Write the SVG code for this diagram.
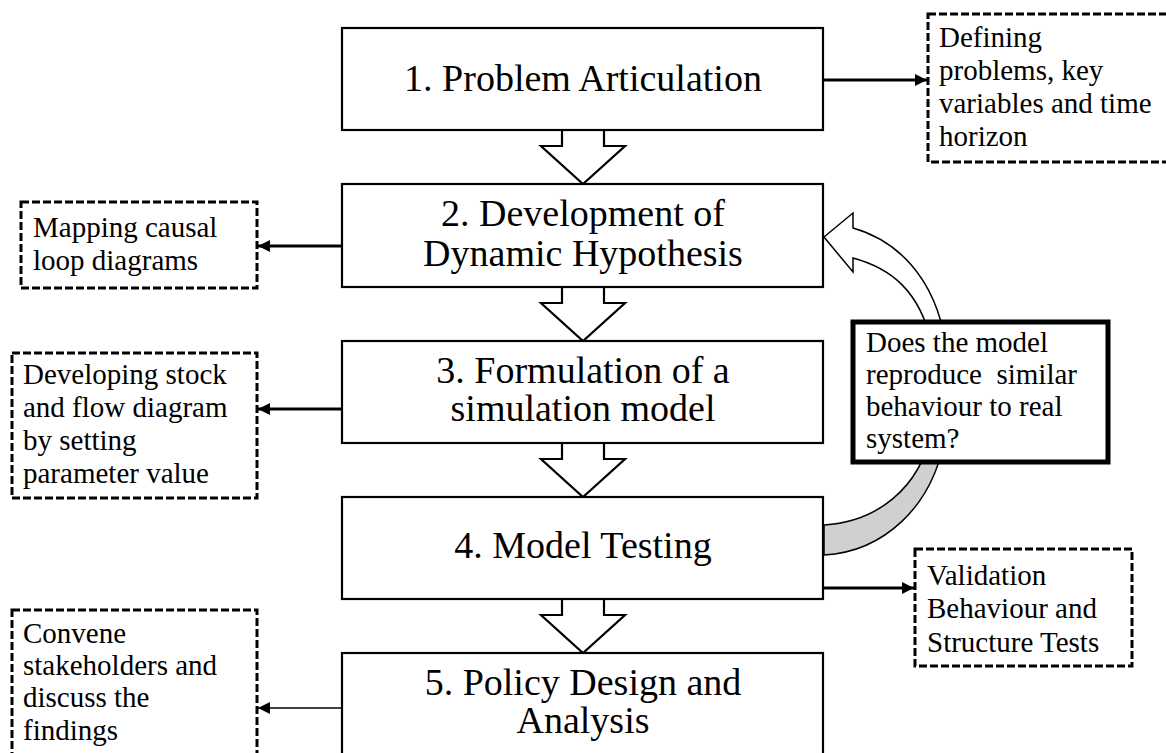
<svg xmlns="http://www.w3.org/2000/svg" width="1166" height="753" viewBox="0 0 1166 753">
  <defs>
    <style>
      .step { fill: #fff; stroke: #000; stroke-width: 2.2; }
      .step-text { font-family: "Liberation Serif", "Times New Roman", serif; font-size: 38px; fill: #000; text-anchor: middle; }
      .note { fill: #fff; stroke: #000; stroke-width: 3; stroke-dasharray: 8 3; }
      .note-text { font-family: "Liberation Serif", "Times New Roman", serif; font-size: 29px; fill: #000; }
      .flow { fill: #fff; stroke: #000; stroke-width: 2.2; stroke-linejoin: miter; }
      .link { fill: none; stroke: #000; stroke-width: 3; }
      .link-thin { fill: none; stroke: #000; stroke-width: 1.5; }
      .question { fill: #fff; stroke: #000; stroke-width: 5; }
    </style>
    <marker id="head" viewBox="0 0 10 10" refX="10" refY="5" markerWidth="4" markerHeight="4" markerUnits="strokeWidth" orient="auto">
      <path d="M0 0 L10 5 L0 10 Z" fill="#000"/>
    </marker>
    <marker id="head-thin" viewBox="0 0 10 10" refX="10" refY="5" markerWidth="8" markerHeight="8" markerUnits="strokeWidth" orient="auto">
      <path d="M0 0 L10 5 L0 10 Z" fill="#000"/>
    </marker>
    <!-- hollow block arrow pointing down, origin at shaft top centre -->
    <path id="block-down" d="M-21 0 L-21 16 L-42 16 L0 54 L42 16 L21 16 L21 0"/>
  </defs>

  <!-- connectors -->
  <g id="connectors">
    <line class="link" x1="823" y1="80" x2="927" y2="80" marker-end="url(#head)"/>
    <line class="link" x1="342" y1="246" x2="258" y2="246" marker-end="url(#head)"/>
    <line class="link" x1="342" y1="409" x2="258" y2="409" marker-end="url(#head)"/>
    <line class="link" x1="824" y1="588" x2="914" y2="588" marker-end="url(#head)"/>
    <line class="link-thin" x1="342" y1="708" x2="258" y2="708" marker-end="url(#head-thin)"/>

    <!-- feedback loop: lower shaded band and upper arrow -->
    <path id="loop-back" d="M824 555 C880 552 935 510 946 430 L932 430 C920 490 875 522 824 525 Z" fill="#d0d0d0" stroke="#000" stroke-width="1.5"/>
    <path id="loop-head" d="M824 237 L853 213 L853 228 C895 240 935 275 946 345 L932 345 C920 290 890 268 853 258 L853 272 Z" fill="#fff" stroke="#000" stroke-width="1.5" stroke-linejoin="miter"/>
  </g>

  <!-- down arrows between steps -->
  <g id="flow-arrows">
    <use href="#block-down" class="flow" x="583" y="130"/>
    <use href="#block-down" class="flow" x="583" y="287"/>
    <use href="#block-down" class="flow" x="583" y="443"/>
    <use href="#block-down" class="flow" x="583" y="599"/>
  </g>

  <g id="step1">
    <rect class="step" x="342" y="28" width="481" height="102"/>
    <text class="step-text" x="583" y="91">1. Problem Articulation</text>
  </g>
  <g id="step2">
    <rect class="step" x="342" y="184" width="481" height="103"/>
    <text class="step-text" x="583" y="226">2. Development of</text>
    <text class="step-text" x="583" y="266">Dynamic Hypothesis</text>
  </g>
  <g id="step3">
    <rect class="step" x="342" y="341" width="481" height="102"/>
    <text class="step-text" x="583" y="383">3. Formulation of a</text>
    <text class="step-text" x="583" y="421">simulation model</text>
  </g>
  <g id="step4">
    <rect class="step" x="342" y="497" width="481" height="102"/>
    <text class="step-text" x="583" y="558">4. Model Testing</text>
  </g>
  <g id="step5">
    <rect class="step" x="342" y="653" width="481" height="110"/>
    <text class="step-text" x="583" y="695">5. Policy Design and</text>
    <text class="step-text" x="583" y="733">Analysis</text>
  </g>

  <g id="note-define">
    <rect class="note" x="928" y="14" width="245" height="148"/>
    <text class="note-text" x="939" y="47">Defining</text>
    <text class="note-text" x="939" y="80">problems, key</text>
    <text class="note-text" x="939" y="113">variables and time</text>
    <text class="note-text" x="939" y="146">horizon</text>
  </g>
  <g id="note-mapping">
    <rect class="note" x="21" y="202" width="236" height="86"/>
    <text class="note-text" x="33" y="237">Mapping causal</text>
    <text class="note-text" x="33" y="270">loop diagrams</text>
  </g>
  <g id="note-stock">
    <rect class="note" x="12" y="353" width="245" height="145"/>
    <text class="note-text" x="23" y="384">Developing stock</text>
    <text class="note-text" x="23" y="417">and flow diagram</text>
    <text class="note-text" x="23" y="450">by setting</text>
    <text class="note-text" x="23" y="483">parameter value</text>
  </g>
  <g id="note-validation">
    <rect class="note" x="915" y="549" width="217" height="117"/>
    <text class="note-text" x="927" y="585">Validation</text>
    <text class="note-text" x="927" y="618">Behaviour and</text>
    <text class="note-text" x="927" y="652">Structure Tests</text>
  </g>
  <g id="note-convene">
    <rect class="note" x="12" y="610" width="245" height="160"/>
    <text class="note-text" x="23" y="643">Convene</text>
    <text class="note-text" x="23" y="675">stakeholders and</text>
    <text class="note-text" x="23" y="707">discuss the</text>
    <text class="note-text" x="23" y="740">findings</text>
  </g>

  <g id="question">
    <rect class="question" x="853" y="322" width="255" height="140"/>
    <text class="note-text" x="866" y="352">Does the model</text>
    <text class="note-text" x="866" y="384" xml:space="preserve">reproduce  similar</text>
    <text class="note-text" x="866" y="416">behaviour to real</text>
    <text class="note-text" x="866" y="448">system?</text>
  </g>
</svg>
